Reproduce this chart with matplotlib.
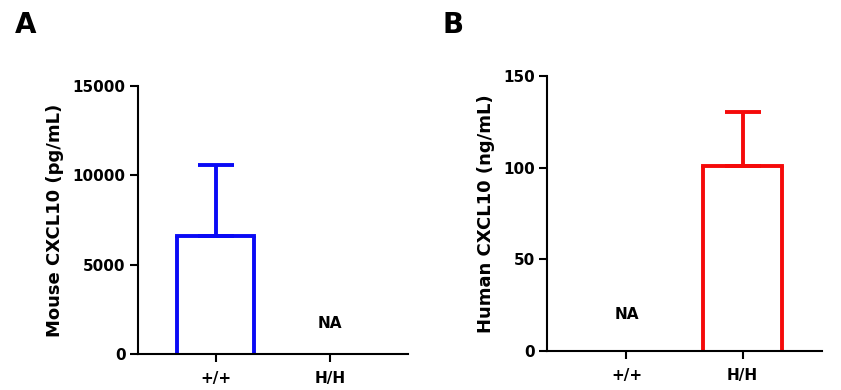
import numpy as np
import matplotlib
matplotlib.use("Agg")
import matplotlib.pyplot as plt

plt.rcParams['font.family'] = ['DejaVu Sans']
plt.rcParams['font.weight'] = 'bold'

# data
genotypes = ['+/+', 'H/H']
mouse_mean = [6600, np.nan]
mouse_err = [3980, np.nan]
human_mean = [np.nan, 101]
human_err = [np.nan, 29.5]

fig = plt.figure(figsize=(8.41, 3.9), dpi=100)
axA = fig.add_axes([0.164, 0.092, 0.321, 0.687])
axB = fig.add_axes([0.651, 0.100, 0.326, 0.705])

W = 0.675
LW = 2.8


def panel(ax, means, errs, color, ylim, yticks, ylabel, na_y):
    x = np.arange(len(genotypes))
    for xi, m, e in zip(x, means, errs):
        if np.isnan(m):
            ax.text(xi, na_y, 'NA', ha='center', va='center',
                    fontsize=11, fontweight='bold')
            continue
        # open bar: sides and top only (bottom sits under the axis)
        ax.vlines([xi - W / 2, xi + W / 2], 0, m, colors=color,
                  linewidth=LW, zorder=2)
        ax.hlines(m, xi - W / 2, xi + W / 2, colors=color,
                  linewidth=LW, zorder=2, capstyle='projecting')
        ax.errorbar(xi, m, yerr=[[0], [e]], fmt='none', ecolor=color,
                    elinewidth=LW, capsize=13, capthick=LW, zorder=1.9)
    ax.set_xlim(-0.68, 1.68)
    ax.set_ylim(*ylim)
    ax.set_yticks(yticks)
    ax.set_xticks(x)
    ax.set_xticklabels(genotypes, fontsize=11, fontweight='bold')
    ax.set_ylabel(ylabel, fontsize=13, fontweight='bold', labelpad=6)
    for s in ['top', 'right']:
        ax.spines[s].set_visible(False)
    for s in ['left', 'bottom']:
        ax.spines[s].set_linewidth(1.5)
        ax.spines[s].set_zorder(5)
    ax.tick_params(axis='y', length=6, width=1.5, labelsize=11, pad=3)
    ax.tick_params(axis='x', length=6, width=1.5, pad=6)
    for lab in ax.get_yticklabels():
        lab.set_fontweight('bold')


panel(axA, mouse_mean, mouse_err, '#0a0af5', (0, 15000),
      [0, 5000, 10000, 15000], 'Mouse CXCL10 (pg/mL)', 1700)
panel(axB, human_mean, human_err, '#f50a0a', (0, 150),
      [0, 50, 100, 150], 'Human CXCL10 (ng/mL)', 20)

fig.text(0.018, 0.915, 'A', fontsize=20, fontweight='bold')
fig.text(0.526, 0.915, 'B', fontsize=20, fontweight='bold')

fig.savefig('out.png', dpi=100)
